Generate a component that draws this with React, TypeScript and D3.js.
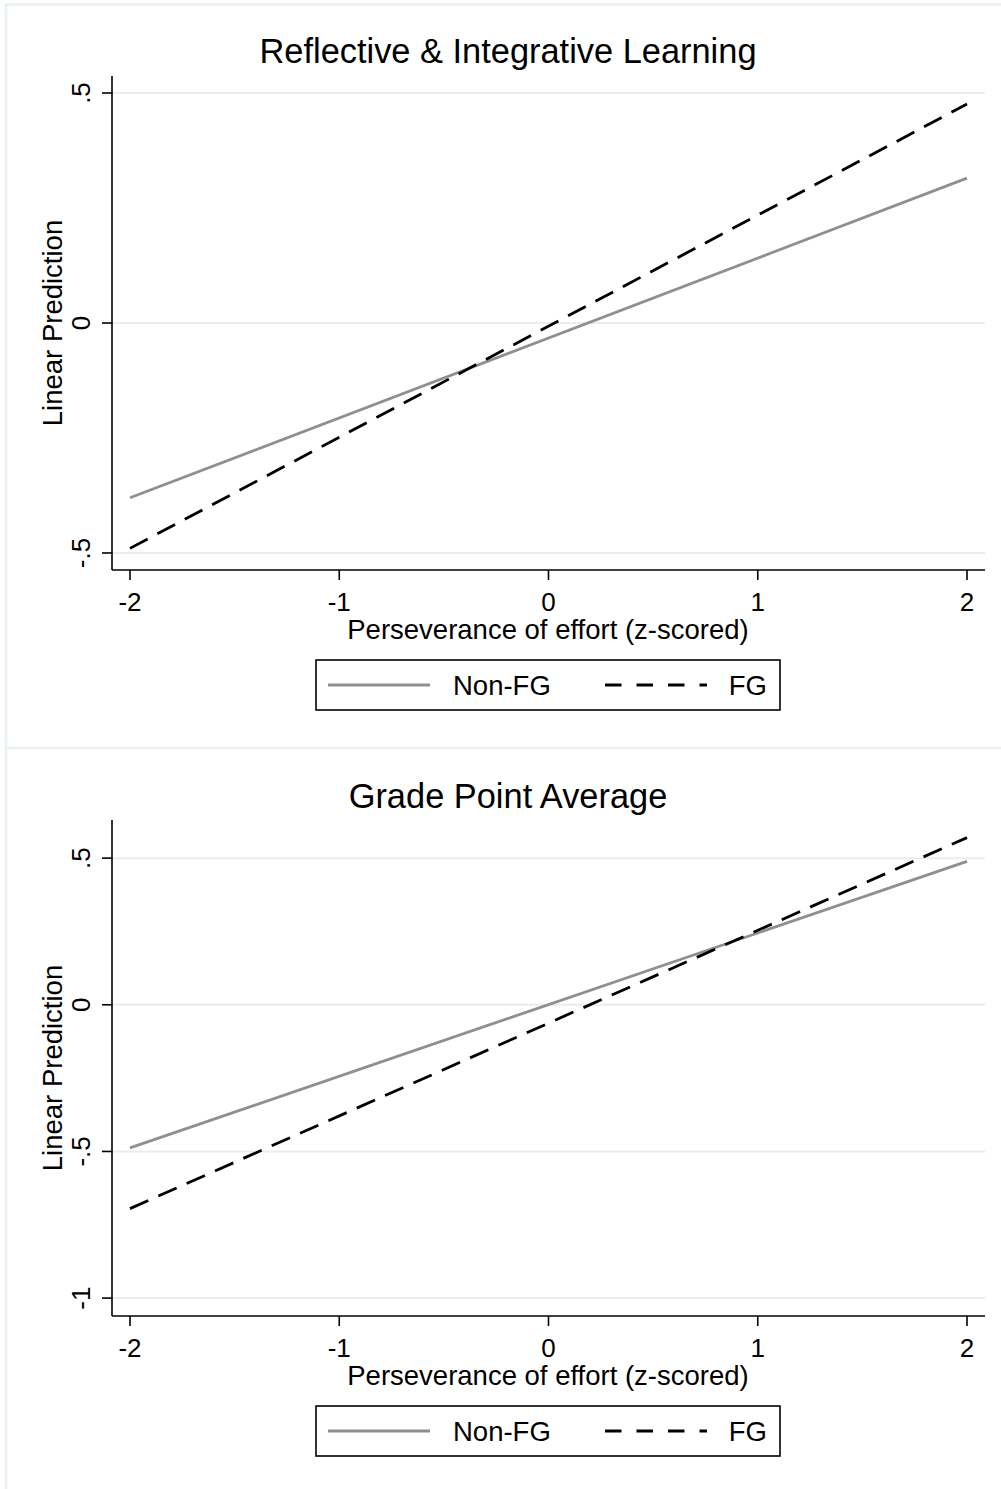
import React from "react";
import * as d3 from "d3";

const xTicks = [-2, -1, 0, 1, 2];
const xTickLabels = ["-2", "-1", "0", "1", "2"];
const effortX = [-2, 2];

const panel1Title = "Reflective & Integrative Learning";
const panel1NonFG = [-0.38, 0.315];
const panel1FG = [-0.49, 0.476];
const panel1YTicks = [-0.5, 0, 0.5];
const panel1YTickLabels = ["-.5", "0", ".5"];

const panel2Title = "Grade Point Average";
const panel2NonFG = [-0.488, 0.489];
const panel2FG = [-0.695, 0.57];
const panel2YTicks = [-1, -0.5, 0, 0.5];
const panel2YTickLabels = ["-1", "-.5", "0", ".5"];

const seriesNames = ["Non-FG", "FG"];
const xAxisTitle = "Perseverance of effort (z-scored)";
const yAxisTitle = "Linear Prediction";

const FONT = "'Liberation Sans', Arial, Helvetica, sans-serif";
const GRAY = "#8f8f8f";

type PanelProps = {
  top: number;
  title: string;
  nonFG: number[];
  fg: number[];
  yTicks: number[];
  yTickLabels: string[];
  yDomain: [number, number];
  plotTop: number;
  plotBottom: number;
};

function Panel(p: PanelProps) {
  const left = 112;
  const right = 985;
  const x = d3.scaleLinear().domain([-2.086, 2.086]).range([left, right]);
  const y = d3.scaleLinear().domain(p.yDomain).range([p.plotBottom, p.plotTop]);
  const line = d3
    .line<number>()
    .x((_, i) => x(effortX[i]))
    .y((d) => y(d));
  const lb = p.plotBottom; // x-axis y
  const legTop = lb + 90;
  return (
    <g>
      <text x={508} y={p.top + 59} textAnchor="middle" fontSize={34.4} fontFamily={FONT} fill="#000">
        {p.title}
      </text>
      {p.yTicks.map((t) => (
        <line key={"g" + t} x1={left} x2={right} y1={y(t)} y2={y(t)} stroke="#ececec" strokeWidth={2} />
      ))}
      {/* axes */}
      <line x1={left} x2={left} y1={p.plotTop} y2={lb} stroke="#000" strokeWidth={1.6} />
      <line x1={left} x2={right} y1={lb} y2={lb} stroke="#000" strokeWidth={1.6} />
      {p.yTicks.map((t, i) => (
        <g key={"y" + t}>
          <line x1={left - 10} x2={left} y1={y(t)} y2={y(t)} stroke="#000" strokeWidth={1.6} />
          <text
            transform={`translate(90,${y(t)}) rotate(-90)`}
            textAnchor="middle"
            fontSize={26}
            fontFamily={FONT}
          >
            {p.yTickLabels[i]}
          </text>
        </g>
      ))}
      {xTicks.map((t, i) => (
        <g key={"x" + t}>
          <line x1={x(t)} x2={x(t)} y1={lb} y2={lb + 10} stroke="#000" strokeWidth={1.6} />
          <text x={x(t)} y={lb + 41} textAnchor="middle" fontSize={26} fontFamily={FONT}>
            {xTickLabels[i]}
          </text>
        </g>
      ))}
      <text x={548} y={lb + 69} textAnchor="middle" fontSize={27.5} fontFamily={FONT}>
        {xAxisTitle}
      </text>
      <text
        transform={`translate(62,${(p.plotTop + lb) / 2}) rotate(-90)`}
        textAnchor="middle"
        fontSize={27.5}
        fontFamily={FONT}
      >
        {yAxisTitle}
      </text>
      {/* series */}
      <path d={line(p.nonFG) || ""} fill="none" stroke={GRAY} strokeWidth={2.8} />
      <path d={line(p.fg) || ""} fill="none" stroke="#000" strokeWidth={2.8} strokeDasharray="20,11" />
      {/* legend */}
      <rect x={316} y={legTop} width={464} height={50} fill="#fff" stroke="#000" strokeWidth={1.6} />
      <line x1={328} x2={430} y1={legTop + 25} y2={legTop + 25} stroke={GRAY} strokeWidth={2.8} />
      <text x={453} y={legTop + 35} fontSize={27.5} fontFamily={FONT}>
        {seriesNames[0]}
      </text>
      <line
        x1={605}
        x2={707}
        y1={legTop + 25}
        y2={legTop + 25}
        stroke="#000"
        strokeWidth={2.8}
        strokeDasharray="16.5,15"
      />
      <text x={767} y={legTop + 35} textAnchor="end" fontSize={27.5} fontFamily={FONT}>
        {seriesNames[1]}
      </text>
    </g>
  );
}

export default function App() {
  return (
    <svg
      width={1001}
      height={1489}
      style={{ position: "absolute", left: 0, top: 0, background: "#fff" }}
    >
      <rect x={0} y={0} width={1001} height={1489} fill="#fff" />
      <line x1={6} x2={6} y1={4} y2={1489} stroke="#e9f1f2" strokeWidth={2.5} />
      <line x1={6} x2={1001} y1={4.5} y2={4.5} stroke="#e9f1f2" strokeWidth={2.5} />
      <line x1={6} x2={1001} y1={748} y2={748} stroke="#e9f1f2" strokeWidth={2.5} />
      <Panel
        top={4}
        title={panel1Title}
        nonFG={panel1NonFG}
        fg={panel1FG}
        yTicks={panel1YTicks}
        yTickLabels={panel1YTickLabels}
        yDomain={[-0.537, 0.537]}
        plotTop={76}
        plotBottom={570}
      />
      <Panel
        top={749}
        title={panel2Title}
        nonFG={panel2NonFG}
        fg={panel2FG}
        yTicks={panel2YTicks}
        yTickLabels={panel2YTickLabels}
        yDomain={[-1.061, 0.63]}
        plotTop={820}
        plotBottom={1316}
      />
    </svg>
  );
}
